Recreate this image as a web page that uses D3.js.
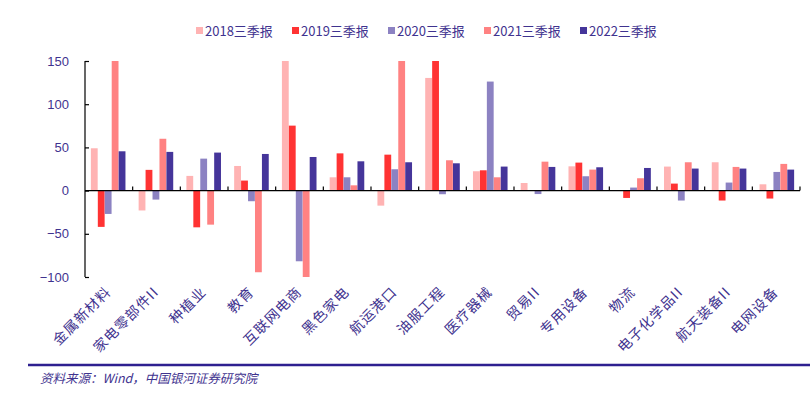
<!DOCTYPE html>
<html><head><meta charset="utf-8">
<script src="https://cdn.jsdelivr.net/npm/d3@7"></script>
<style>body{margin:0;background:#fff}svg{display:block}</style>
</head><body>
<script>
const categories = ["金属新材料","家电零部件II","种植业","教育","互联网电商","黑色家电","航运港口","油服工程","医疗器械","贸易II","专用设备","物流","电子化学品II","航天装备II","电网设备"];
const seriesNames = ["2018三季报","2019三季报","2020三季报","2021三季报","2022三季报"];
const s2018 = [49,-23,17,28.5,150,15.4,-17.4,130.4,22.4,8.8,28.1,-0.5,27.8,32.8,7.3];
const s2019 = [-42,24,-42.5,11.6,75.2,43.1,41.6,150,23.5,0,32.4,-8.5,8.1,-11.5,-9.2];
const s2020 = [-27,-10.4,37,-12.3,-81.8,15.4,24.7,-4.2,126.2,-4,16.6,3.5,-11.5,9.3,21.6];
const s2021 = [150,60,-39.4,-94.5,-101.5,6.1,150,35.1,15.4,33.5,24.3,14.3,32.8,27.4,30.9];
const s2022 = [45.5,44.8,44,42.4,38.9,33.9,32.8,31.6,27.8,27.4,27,26.2,25.5,25.5,24.3];
const yTicks = [-100,-50,0,50,100,150];
const colors = ["#FFB3B3","#FF3333","#8C82C2","#FF8282","#45359A"];
const textColor = "#3F338F";

(function(){
const allSeries = [s2018,s2019,s2020,s2021,s2022];
const W=810,H=400;
const svg=d3.select("body").append("svg").attr("width",W).attr("height",H);
const pLeft=85,pRight=800,pTop=61,pBottom=277;
const x=d3.scaleBand().domain(categories).range([pLeft,pRight]).paddingInner(0.27).paddingOuter(0.12);
const x0=d3.scaleBand().domain(categories).range([pLeft,pRight]);
const xs=d3.scaleBand().domain(seriesNames).range([0,x.bandwidth()]).padding(0.02);
const y=d3.scaleLinear().domain([-100,150]).range([pBottom,pTop]).clamp(true);

seriesNames.forEach((s,si)=>{
  svg.append("g").selectAll("rect").data(allSeries[si]).join("rect")
    .attr("x",(d,i)=>x(categories[i])+xs(s))
    .attr("width",xs.bandwidth())
    .attr("y",d=>Math.min(y(d),y(0)))
    .attr("height",d=>Math.abs(y(d)-y(0)))
    .attr("fill",colors[si]);
});

const ya=svg.append("g").attr("transform",`translate(${pLeft},0)`)
  .call(d3.axisLeft(y).tickValues(yTicks).tickSize(-4).tickPadding(16).tickFormat(d=>d<0?"\u2212"+Math.abs(d):d));
ya.select(".domain").attr("stroke","#000").attr("stroke-width",1.2).attr("d",`M0,${pTop}V${pBottom}`);
ya.selectAll(".tick line").attr("stroke","#000").attr("stroke-width",1.2);
ya.selectAll(".tick text").attr("fill",textColor).style("font-family","Liberation Sans, Arial, sans-serif").style("font-size","13px");

const xa=svg.append("g").attr("transform",`translate(0,${y(0)})`);
xa.append("line").attr("x1",pLeft).attr("x2",pRight).attr("stroke","#000").attr("stroke-width",1.4);
xa.selectAll("line.tk").data(categories).join("line").attr("class","tk")
  .attr("x1",d=>x0(d)+x0.step()).attr("x2",d=>x0(d)+x0.step())
  .attr("y1",0).attr("y2",-4).attr("stroke","#000").attr("stroke-width",1.2);

svg.append("g").selectAll("text").data(categories).join("text")
  .attr("transform",d=>`translate(${x0(d)+x0.bandwidth()/2+3},${293}) rotate(-45)`)
  .attr("text-anchor","end")
  .attr("fill",textColor)
  .style("font-family","Noto Sans CJK SC, sans-serif").style("font-size","14px").style("letter-spacing","1px")
  .text(d=>d);

const lg=svg.append("g");
seriesNames.forEach((s,i)=>{
  const lx=196+i*96;
  lg.append("rect").attr("x",lx).attr("y",27).attr("width",7).attr("height",7).attr("fill",colors[i]);
  lg.append("text").attr("x",lx+9).attr("y",35.5).attr("fill",textColor)
    .style("font-family","Noto Sans CJK SC, sans-serif").style("font-size","13px").text(s);
});

svg.append("line").attr("x1",28).attr("x2",810).attr("y1",365).attr("y2",365).attr("stroke","#2E2090").attr("stroke-width",2.5);
svg.append("text").attr("x",40).attr("y",383).attr("fill",textColor)
  .style("font-family","Noto Sans CJK SC, sans-serif").style("font-size","12.5px").style("font-style","italic")
  .text("资料来源：Wind，中国银河证券研究院");
})();
</script>
</body></html>
